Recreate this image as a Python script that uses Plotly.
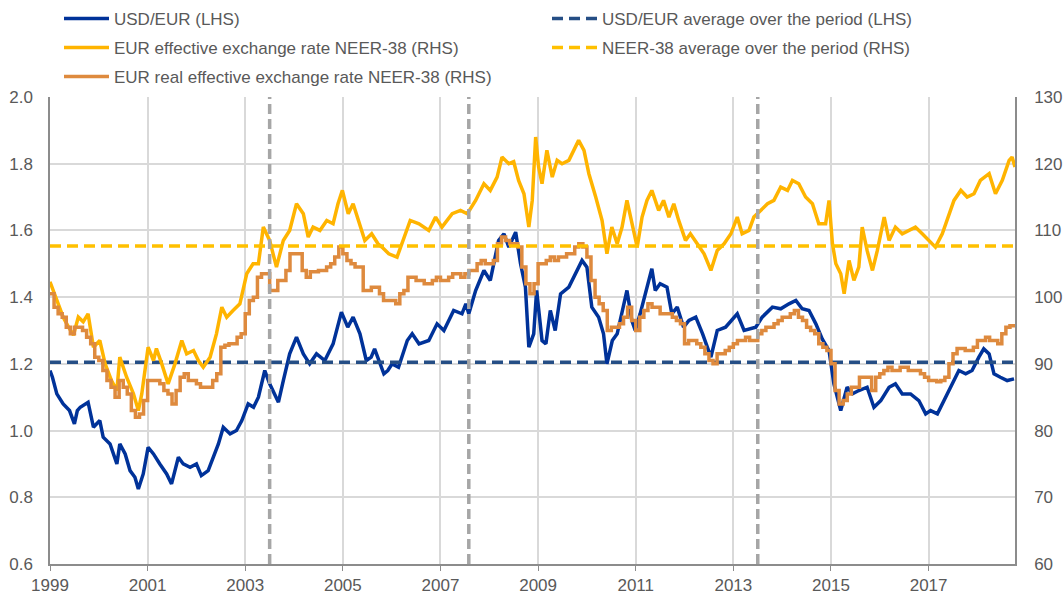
import plotly.graph_objects as go

# ---------------- data ----------------
usd_x = [1999.00, 1999.05, 1999.14, 1999.27, 1999.40, 1999.50, 1999.56, 1999.62, 1999.78, 1999.89,
         2000.02, 2000.09, 2000.23, 2000.37, 2000.43, 2000.54, 2000.64, 2000.74, 2000.81, 2000.91,
         2001.01, 2001.12, 2001.25, 2001.39, 2001.49, 2001.63, 2001.73, 2001.87, 2002.00, 2002.10,
         2002.24, 2002.34, 2002.45, 2002.55, 2002.69, 2002.82, 2002.93, 2003.06, 2003.17, 2003.27,
         2003.40, 2003.50, 2003.68, 2003.78, 2003.91, 2004.05, 2004.19, 2004.32, 2004.46, 2004.63,
         2004.80, 2004.97, 2005.10, 2005.21, 2005.35, 2005.48, 2005.58, 2005.65, 2005.76, 2005.84,
         2005.92, 2006.01, 2006.14, 2006.32, 2006.42, 2006.56, 2006.76, 2006.93, 2007.07, 2007.27,
         2007.44, 2007.52, 2007.58, 2007.72, 2007.89, 2008.02, 2008.19, 2008.30, 2008.40, 2008.54,
         2008.64, 2008.74, 2008.81, 2008.91, 2008.97, 2009.02, 2009.08, 2009.16, 2009.25, 2009.35,
         2009.46, 2009.63, 2009.76, 2009.90, 2010.00, 2010.10, 2010.24, 2010.34, 2010.41, 2010.52,
         2010.62, 2010.72, 2010.82, 2010.92, 2010.99, 2011.09, 2011.23, 2011.33, 2011.40, 2011.50,
         2011.64, 2011.74, 2011.85, 2011.98, 2012.09, 2012.23, 2012.37, 2012.54, 2012.67, 2012.84,
         2013.08, 2013.22, 2013.46, 2013.59, 2013.80, 2013.97, 2014.14, 2014.28, 2014.41, 2014.55,
         2014.69, 2014.82, 2014.96, 2015.06, 2015.20, 2015.33, 2015.44, 2015.57, 2015.74, 2015.88,
         2016.02, 2016.19, 2016.32, 2016.46, 2016.63, 2016.80, 2016.94, 2017.04, 2017.18, 2017.31,
         2017.45, 2017.62, 2017.76, 2017.89, 2018.03, 2018.13, 2018.24, 2018.34, 2018.47, 2018.61,
         2018.75]
usd_y = [1.18, 1.16, 1.11, 1.08, 1.06, 1.02, 1.06, 1.07, 1.085, 1.01,
         1.03, 0.98, 0.96, 0.90, 0.96, 0.93, 0.88, 0.86, 0.825, 0.87,
         0.95, 0.93, 0.90, 0.87, 0.84, 0.92, 0.90, 0.89, 0.90, 0.865,
         0.88, 0.92, 0.96, 1.01, 0.99, 1.00, 1.03, 1.08, 1.07, 1.10,
         1.18, 1.14, 1.085, 1.15, 1.23, 1.28, 1.23, 1.20, 1.23, 1.21,
         1.26, 1.355, 1.31, 1.34, 1.29, 1.21, 1.22, 1.245, 1.20, 1.17,
         1.18, 1.20, 1.19, 1.27, 1.29, 1.26, 1.27, 1.32, 1.30, 1.36,
         1.35, 1.38, 1.35, 1.42, 1.48, 1.45, 1.57, 1.59, 1.55, 1.595,
         1.50, 1.43, 1.25, 1.29, 1.42, 1.35, 1.27, 1.26, 1.36, 1.30,
         1.41, 1.43, 1.47, 1.51, 1.49, 1.37, 1.34, 1.29, 1.20, 1.27,
         1.29, 1.35, 1.42, 1.33, 1.30, 1.35, 1.43, 1.485, 1.42, 1.44,
         1.43, 1.35, 1.37, 1.31, 1.33, 1.34, 1.29, 1.22, 1.30, 1.31,
         1.35, 1.30, 1.31, 1.34, 1.37, 1.365, 1.38, 1.39, 1.365, 1.36,
         1.32, 1.275, 1.24, 1.14, 1.06, 1.13, 1.11, 1.12, 1.13, 1.07,
         1.09, 1.13, 1.14, 1.11, 1.11, 1.09, 1.05, 1.06, 1.05, 1.09,
         1.13, 1.18, 1.17, 1.18, 1.22, 1.245, 1.23, 1.17, 1.16, 1.15,
         1.155]

neer_x = [1999.00, 1999.14, 1999.27, 1999.38, 1999.48, 1999.58, 1999.68, 1999.78, 1999.89, 2000.02,
          2000.13, 2000.26, 2000.37, 2000.43, 2000.57, 2000.71, 2000.81, 2000.88, 2001.01, 2001.12,
          2001.18, 2001.29, 2001.42, 2001.56, 2001.70, 2001.80, 2001.94, 2002.04, 2002.14, 2002.28,
          2002.41, 2002.52, 2002.62, 2002.75, 2002.89, 2003.03, 2003.16, 2003.27, 2003.37, 2003.50,
          2003.64, 2003.78, 2003.91, 2004.05, 2004.19, 2004.29, 2004.39, 2004.53, 2004.67, 2004.80,
          2004.90, 2004.99, 2005.11, 2005.21, 2005.35, 2005.45, 2005.59, 2005.72, 2005.80, 2005.94,
          2006.11, 2006.25, 2006.38, 2006.56, 2006.76, 2006.90, 2007.03, 2007.24, 2007.41, 2007.55,
          2007.72, 2007.89, 2008.02, 2008.16, 2008.26, 2008.40, 2008.50, 2008.60, 2008.71, 2008.81,
          2008.88, 2008.95, 2009.01, 2009.08, 2009.18, 2009.29, 2009.39, 2009.49, 2009.63, 2009.73,
          2009.83, 2009.94, 2010.04, 2010.18, 2010.31, 2010.41, 2010.51, 2010.62, 2010.72, 2010.82,
          2010.92, 2011.03, 2011.13, 2011.23, 2011.33, 2011.47, 2011.57, 2011.68, 2011.78, 2011.88,
          2012.02, 2012.12, 2012.26, 2012.40, 2012.54, 2012.67, 2012.81, 2012.95, 2013.08, 2013.18,
          2013.32, 2013.42, 2013.56, 2013.70, 2013.83, 2013.97, 2014.11, 2014.21, 2014.34, 2014.48,
          2014.62, 2014.75, 2014.89, 2014.96, 2015.03, 2015.10, 2015.20, 2015.27, 2015.37, 2015.47,
          2015.57, 2015.64, 2015.74, 2015.85, 2015.95, 2016.09, 2016.19, 2016.32, 2016.46, 2016.60,
          2016.73, 2016.87, 2017.01, 2017.14, 2017.28, 2017.38, 2017.52, 2017.66, 2017.79, 2017.93,
          2018.06, 2018.24, 2018.37, 2018.51, 2018.65, 2018.71, 2018.77]
neer_y = [102.3, 99.5, 97.0, 95.5, 94.3, 97.0, 96.3, 97.5, 92.5, 93.5,
          90.0, 87.5, 86.0, 91.0, 88.0, 85.5, 83.0, 85.5, 92.5, 90.5,
          92.3, 90.0, 87.0, 90.0, 93.5, 91.5, 92.0, 90.5, 89.5, 91.0,
          94.5, 98.5, 97.0, 98.0, 99.0, 103.5, 105.0, 105.0, 110.5, 108.5,
          104.5, 108.5, 110.0, 114.0, 112.5, 109.0, 110.5, 110.0, 111.5, 111.0,
          114.0, 116.0, 112.5, 114.0, 111.0, 108.5, 109.5, 108.0, 107.5, 106.5,
          106.0, 109.0, 111.5, 111.0, 110.0, 112.0, 110.5, 112.5, 113.0, 112.5,
          114.5, 117.0, 116.0, 118.0, 121.0, 120.0, 120.3, 117.5, 115.5, 110.5,
          114.5, 124.0, 119.5, 117.0, 122.0, 118.0, 120.5, 120.0, 120.5, 122.0,
          123.5, 122.0, 118.5, 115.0, 111.5, 106.5, 110.5, 108.0, 110.5, 114.5,
          111.0, 107.5, 112.0, 114.5, 116.0, 113.0, 114.5, 112.0, 114.0, 111.5,
          108.5, 109.5, 108.0, 106.5, 104.0, 107.0, 108.0, 109.5, 112.0, 109.5,
          110.0, 112.0, 113.0, 114.0, 114.5, 116.5, 116.0, 117.5, 117.0, 115.0,
          114.0, 111.0, 111.0, 114.5, 108.0, 105.0, 103.5, 100.5, 105.5, 102.5,
          104.5, 110.5, 107.0, 104.0, 107.0, 112.0, 108.5, 110.5, 109.5, 110.0,
          110.5, 109.5, 108.5, 107.5, 109.5, 111.5, 114.5, 116.0, 115.0, 115.5,
          117.5, 118.5, 115.5, 117.5, 120.5, 121.0, 119.5]

# real effective exchange rate: monthly values from Jan 1999
reer_start_year = 1999
reer_monthly = [100.5, 98.5, 97.5, 97.0, 95.5, 94.5, 95.5, 95.5, 95.0, 94.0, 93.0, 91.0,
                90.5, 89.0, 87.5, 86.5, 85.0, 87.5, 86.5, 85.5, 83.0, 82.0, 82.5, 84.5,
                87.5, 87.5, 87.5, 87.0, 86.0, 85.5, 84.0, 86.0, 88.0, 88.5, 87.5, 87.5,
                87.0, 86.5, 86.5, 86.5, 87.5, 88.5, 92.5, 92.8, 93.0, 93.0, 94.0, 94.5,
                97.5, 99.5, 100.0, 103.0, 103.5, 103.5, 101.0, 101.0, 102.5, 102.5, 104.0, 106.5,
                106.5, 106.5, 104.0, 103.0, 103.8, 103.8, 104.0, 104.0, 104.5, 105.0, 106.0, 107.5,
                106.5, 105.5, 105.0, 104.5, 104.5, 101.0, 101.0, 101.5, 101.5, 100.5, 99.5, 99.5,
                99.5, 99.0, 100.5, 101.0, 103.0, 103.0, 102.5, 102.5, 102.0, 102.0, 102.5, 103.0,
                102.5, 102.5, 103.0, 103.5, 103.5, 103.0, 103.5, 104.0, 104.0, 105.0, 105.5, 105.0,
                105.0, 105.5, 108.0, 109.0, 108.5, 108.0, 108.0, 107.5, 104.5, 102.0, 100.5, 102.0,
                105.0, 105.0, 105.5, 106.0, 105.5, 106.0, 106.0, 106.5, 106.5, 107.5, 108.0, 107.5,
                106.0, 102.5, 100.0, 99.0, 98.0, 95.0, 95.5, 95.5, 96.0, 97.0, 98.5, 96.5,
                95.0, 97.0, 98.0, 99.0, 98.5, 98.5, 97.5, 97.5, 97.5, 97.0, 96.5, 96.0,
                93.0, 93.5, 93.5, 93.0, 92.5, 91.5, 90.5, 90.0, 91.5, 91.5, 92.0, 92.5,
                93.0, 93.5, 93.5, 94.0, 93.5, 93.5, 94.5, 95.0, 95.5, 95.5, 96.0, 96.5,
                97.0, 97.0, 97.5, 98.0, 97.0, 96.5, 95.5, 95.0, 94.5, 93.0, 92.5, 92.0,
                90.0, 86.0, 84.0, 84.5, 85.5, 86.5, 86.5, 88.0, 88.0, 88.0, 86.0, 88.0,
                88.5, 89.0, 89.5, 89.0, 89.0, 89.5, 89.5, 89.0, 89.0, 89.0, 88.5, 88.0,
                87.5, 87.5, 87.3, 87.5, 88.0, 90.0, 91.5, 92.3, 92.3, 92.0, 92.0, 92.5,
                93.5, 93.5, 94.0, 93.5, 93.5, 93.0, 94.5, 95.5, 95.7, 95.7]
reer_x = [reer_start_year + i / 12 for i in range(len(reer_monthly))]
reer_x.append(2018.77)
reer_y = reer_monthly + [reer_monthly[-1]]

usd_avg = 1.205
neer_avg = 107.65

period_marks = [2003.5, 2007.58, 2013.5]
x_start, x_end = 1999.0, 2018.77
x_ticks = [1999, 2001, 2003, 2005, 2007, 2009, 2011, 2013, 2015, 2017]

# ---------------- styling ----------------
BLUE = "#003299"
YELLOW = "#FFB400"
ORANGE = "#DE8A3E"
NAVY = "#254E85"
AVG_YEL = "#FFC000"
GREY_TXT = "#595959"
FONT = "Liberation Sans, Arial, sans-serif"
W, H = 1063, 598

fig = go.Figure()
fig.add_trace(go.Scatter(x=usd_x, y=usd_y, mode="lines", name="USD/EUR (LHS)",
                         line=dict(color=BLUE, width=3.5), yaxis="y", legend="legend"))
fig.add_trace(go.Scatter(x=neer_x, y=neer_y, mode="lines",
                         name="EUR effective exchange rate NEER-38 (RHS)",
                         line=dict(color=YELLOW, width=3.5), yaxis="y2", legend="legend3"))
fig.add_trace(go.Scatter(x=reer_x, y=reer_y, mode="lines",
                         name="EUR real effective exchange rate NEER-38 (RHS)",
                         line=dict(color=ORANGE, width=3.5, shape="hv"), yaxis="y2", legend="legend5"))
fig.add_trace(go.Scatter(x=[x_start, x_end], y=[usd_avg, usd_avg], mode="lines",
                         name="USD/EUR average over the period (LHS)",
                         line=dict(color=NAVY, width=3.5, dash="11px,6px"), yaxis="y", legend="legend2"))
fig.add_trace(go.Scatter(x=[x_start, x_end], y=[neer_avg, neer_avg], mode="lines",
                         name="NEER-38 average over the period (RHS)",
                         line=dict(color=AVG_YEL, width=3.5, dash="11px,6px"), yaxis="y2", legend="legend4"))

for xm in period_marks:
    fig.add_shape(type="line", x0=xm, x1=xm, y0=0, y1=1, xref="x", yref="paper",
                  line=dict(color="#A6A6A6", width=3.5, dash="10px,5px"), layer="above")


def leg(px_x, px_y):
    return dict(font=dict(family=FONT, size=17, color=GREY_TXT), bgcolor="rgba(0,0,0,0)",
                orientation="v", xref="container", yref="container",
                x=px_x / W, y=1 - px_y / H, xanchor="left", yanchor="middle",
                itemwidth=45, borderwidth=0)


fig.update_layout(
    width=W, height=H,
    margin=dict(l=50, r=48, t=97, b=34, autoexpand=False),
    paper_bgcolor="white", plot_bgcolor="white",
    font=dict(family=FONT, size=17, color=GREY_TXT),
    showlegend=True,
    legend=leg(59, 19),
    legend3=leg(59, 48),
    legend5=leg(59, 77),
    legend2=leg(547, 19),
    legend4=leg(547, 48),
    xaxis=dict(range=[x_start, x_end], tickvals=x_ticks, ticktext=[str(t) for t in x_ticks],
               showgrid=True, gridcolor="#D9D9D9", gridwidth=1.5,
               showline=True, linecolor="#8C8C8C", linewidth=1.5, mirror=False,
               ticks="outside", ticklen=5, tickcolor="#8C8C8C",
               tickfont=dict(family=FONT, size=17, color=GREY_TXT), zeroline=False,
               automargin=False),
    yaxis=dict(range=[0.6, 2.0], dtick=0.2, tickformat=".1f",
               showgrid=True, gridcolor="#D9D9D9", gridwidth=1.5,
               showline=True, linecolor="#8C8C8C", linewidth=1.5,
               ticks="", ticklabelstandoff=12,
               tickfont=dict(family=FONT, size=17, color=GREY_TXT), zeroline=False,
               automargin=False),
    yaxis2=dict(range=[60, 130], dtick=10, overlaying="y", side="right",
                showgrid=False, showline=True, linecolor="#8C8C8C", linewidth=1.5,
                ticks="", ticklabelstandoff=14,
                tickfont=dict(family=FONT, size=17, color=GREY_TXT), zeroline=False,
                automargin=False),
)

fig.write_html("out.html",
               config={"displayModeBar": False},
               post_script="document.body.style.margin='0px';document.body.style.overflow='hidden';")
